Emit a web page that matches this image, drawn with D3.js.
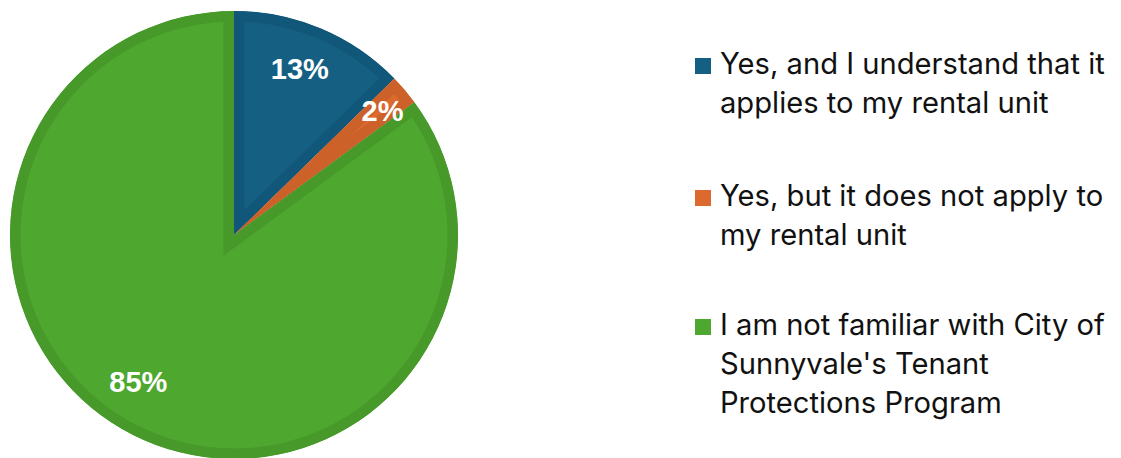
<!DOCTYPE html>
<html>
<head>
<meta charset="utf-8">
<script src="https://cdn.jsdelivr.net/npm/d3@7/dist/d3.min.js"></script>
<style>
  html, body { margin: 0; padding: 0; background: #ffffff; }
  svg { display: block; }
</style>
</head>
<body>
<svg id="chart" width="1121" height="458"></svg>
<script>
// ---- data ----
const categories = [
  "Yes, and I understand that it applies to my rental unit",
  "Yes, but it does not apply to my rental unit",
  "I am not familiar with City of Sunnyvale's Tenant Protections Program"
];
const legendLines = [
  ["Yes, and I understand that it", "applies to my rental unit"],
  ["Yes, but it does not apply to", "my rental unit"],
  ["I am not familiar with City of", "Sunnyvale's Tenant", "Protections Program"]
];
const values = [12.7, 2.2, 85.1];
const labels = ["13%", "2%", "85%"];

// ---- styles / layout ----
const fillColors = ["#156082", "#dc6a2e", "#4ea72e"];
const edgeColors = ["#11577a", "#cc6129", "#47992a"];
const labelAngleShift = [-1.3, 0.45, 6.2];   // degrees, label placement tweak
const labelRadiusFrac = [0.80, 0.864, 0.784];

const svg = d3.select("#chart");
const cx = 234, cy = 235, R = 224, band = 10.5;

const pie = d3.pie().sort(null).value(d => d).startAngle(0).endAngle(2 * Math.PI);
const arcs = pie(values);
const arc = d3.arc().innerRadius(0).outerRadius(R);

const g = svg.append("g").attr("transform", `translate(${cx},${cy})`);
const defs = svg.append("defs");

arcs.forEach((a, i) => {
  defs.append("clipPath").attr("id", "clip" + i)
    .append("path").attr("d", arc(a));
});

g.selectAll("path.slice")
  .data(arcs)
  .join("path")
  .attr("class", "slice")
  .attr("d", arc)
  .attr("fill", (d, i) => fillColors[i])
  .attr("stroke", (d, i) => edgeColors[i])
  .attr("stroke-width", band * 2)
  .attr("stroke-linejoin", "miter")
  .attr("stroke-miterlimit", 10)
  .attr("clip-path", (d, i) => `url(#clip${i})`);

g.selectAll("text.lbl")
  .data(arcs)
  .join("text")
  .attr("class", "lbl")
  .attr("x", (d, i) => {
    const ang = (d.startAngle + d.endAngle) / 2 + labelAngleShift[i] * Math.PI / 180;
    return Math.sin(ang) * R * labelRadiusFrac[i];
  })
  .attr("y", (d, i) => {
    const ang = (d.startAngle + d.endAngle) / 2 + labelAngleShift[i] * Math.PI / 180;
    return -Math.cos(ang) * R * labelRadiusFrac[i];
  })
  .attr("dy", "0.35em")
  .attr("text-anchor", "middle")
  .attr("font-family", "'Liberation Sans', Arial, sans-serif")
  .attr("font-weight", "bold")
  .attr("font-size", 29)
  .attr("fill", "#ffffff")
  .text((d, i) => labels[i]);

// ---- legend ----
const legendFont = "Inter, 'Open Sans', sans-serif";
const textX = 720;
const firstBaselines = [74, 206, 335];
const lineH = 39;

const probe = svg.append("text").attr("font-family", legendFont).attr("font-size", 100)
  .text(legendLines[0][0]);
const w100 = probe.node().getComputedTextLength();
probe.remove();
const legendSize = Math.min(30, 100 * 385 / w100);

const lg = svg.append("g");
legendLines.forEach((lines, i) => {
  const base = firstBaselines[i];
  lg.append("rect")
    .attr("x", 695).attr("y", base - 16)
    .attr("width", 16).attr("height", 16)
    .attr("fill", fillColors[i]);
  const t = lg.append("text")
    .attr("font-family", legendFont)
    .attr("font-size", legendSize)
    .attr("fill", "#111111");
  lines.forEach((ln, j) => {
    t.append("tspan").attr("x", textX).attr("y", base + j * lineH).text(ln);
  });
});
</script>
</body>
</html>
